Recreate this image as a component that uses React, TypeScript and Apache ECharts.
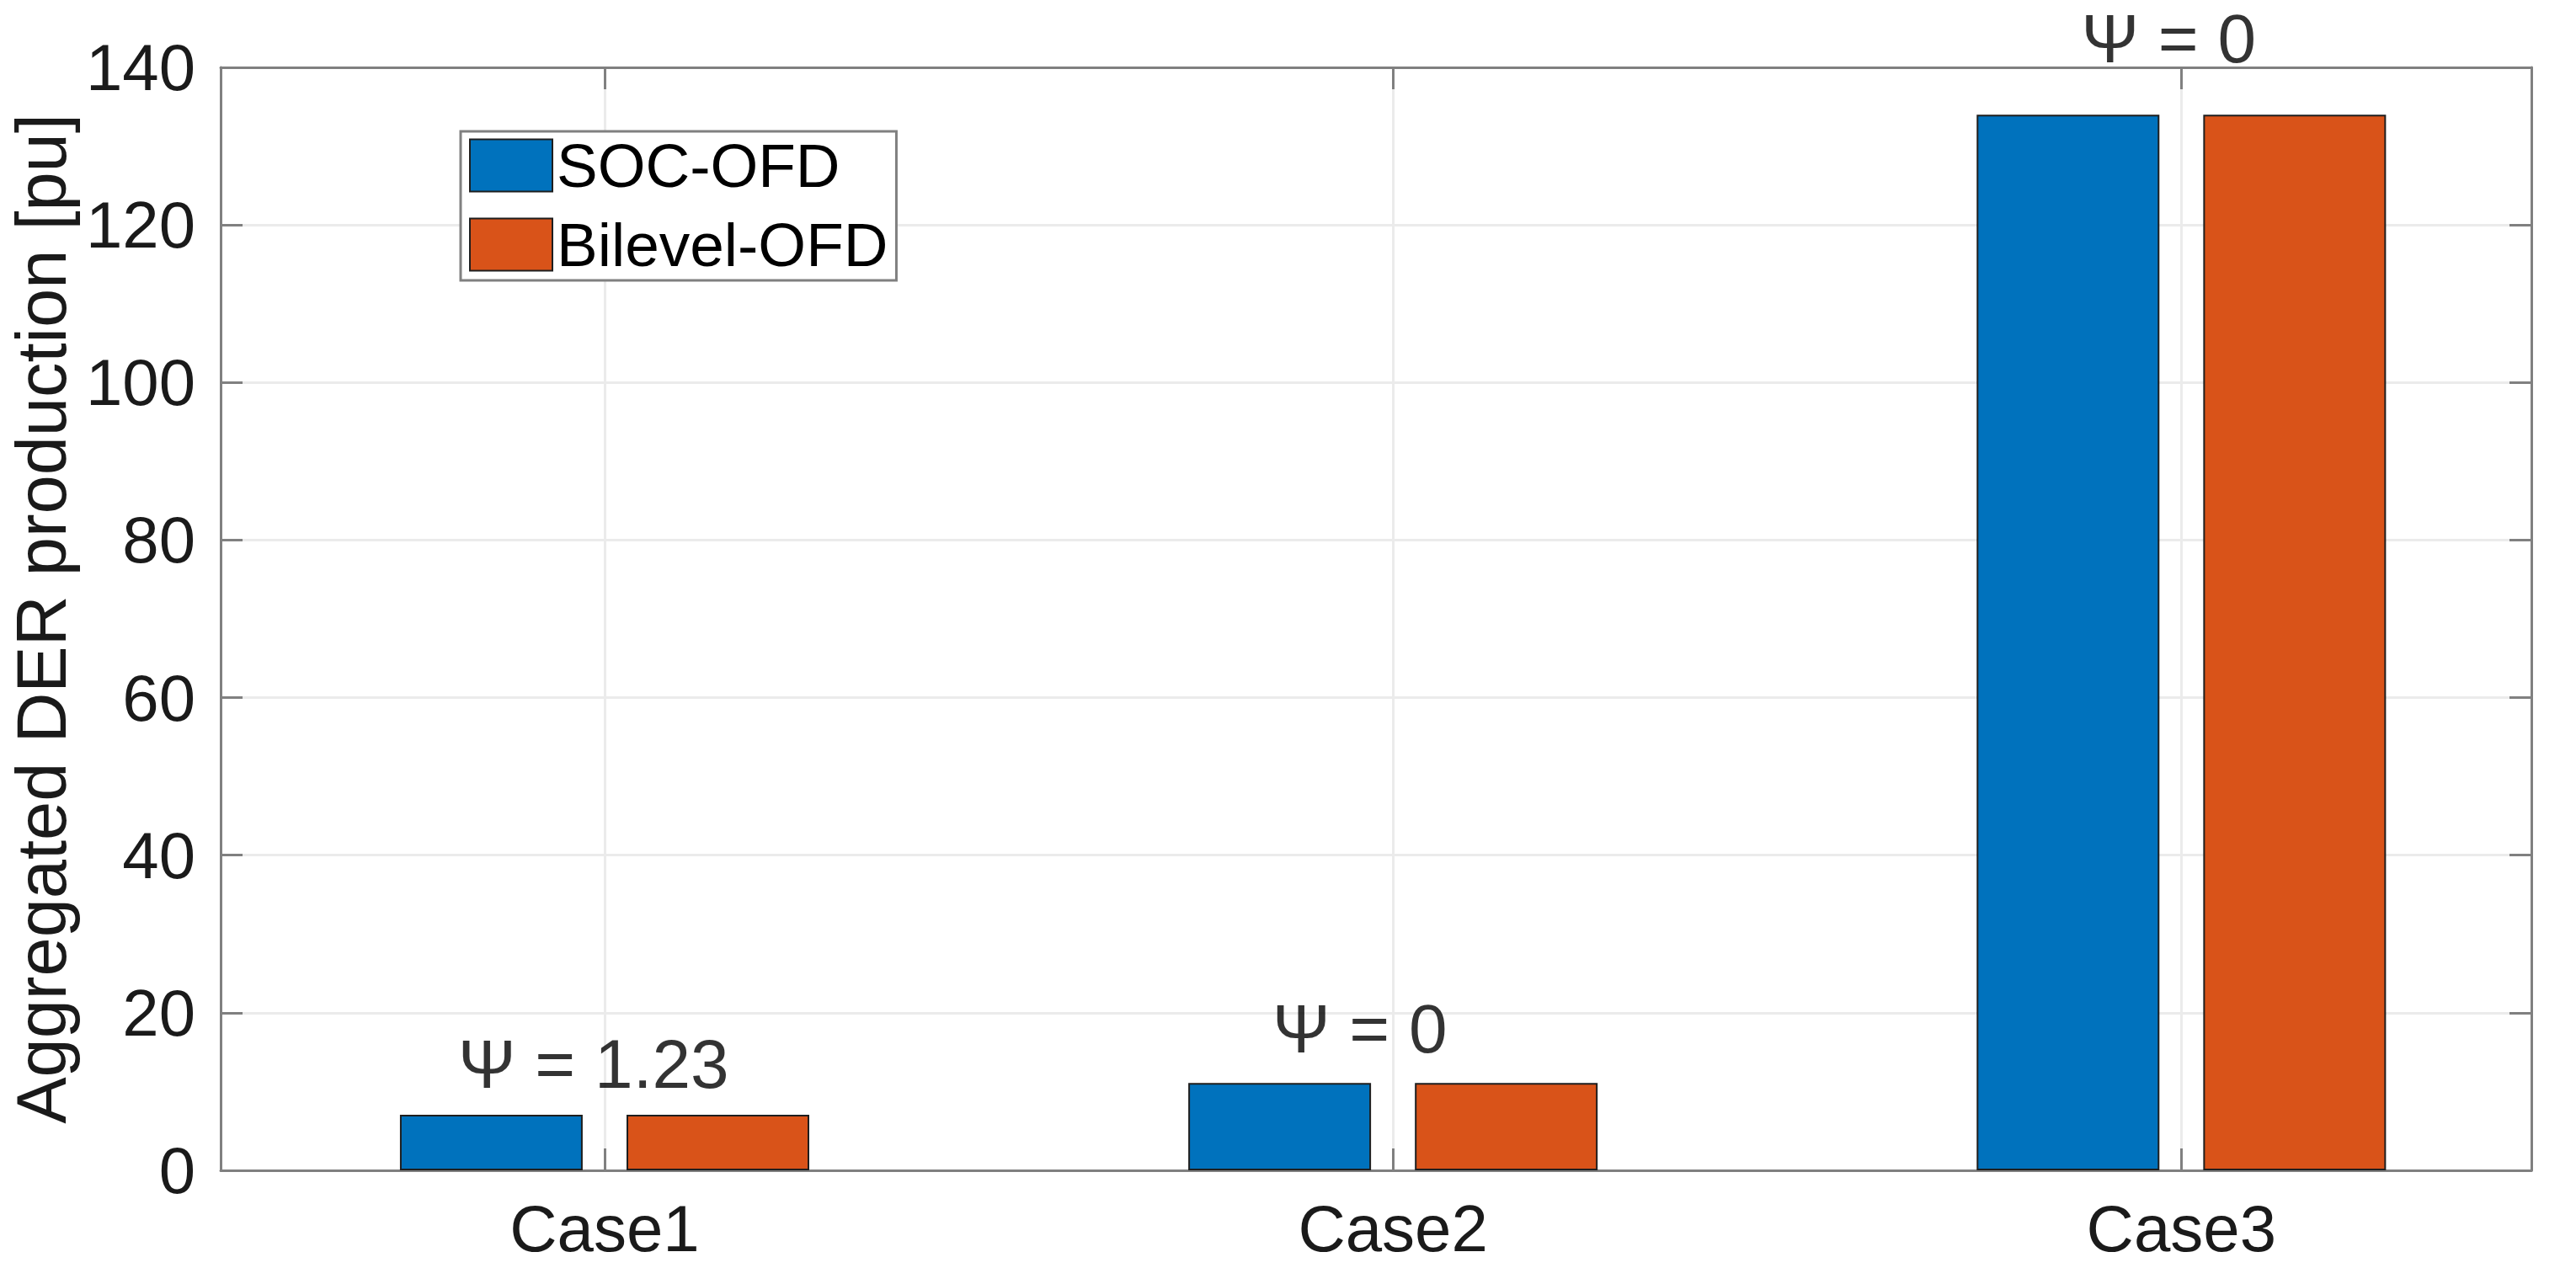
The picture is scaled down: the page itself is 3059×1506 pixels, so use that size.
import React, { useEffect, useRef } from "react";
import * as echarts from "echarts";

const categories = ["Case1", "Case2", "Case3"];
const categoryPositions = [1, 2, 3];
const xMin = 0.513;
const xMax = 3.444;
const seriesNames = ["SOC-OFD", "Bilevel-OFD"];
const socOfd = [7.05, 11.1, 134.0];
const bilevelOfd = [7.05, 11.1, 134.0];
const annotations = ["Ψ = 1.23", "Ψ = 0", "Ψ = 0"];
const annotationX = [0.986, 1.958, 2.984];
const annotationY = [9.1, 13.6, 139.3];
const yMin = 0;
const yMax = 140;
const yInterval = 20;
const yTitle = "Aggregated DER production [pu]";

const FONT = "'Liberation Sans', Arial, Helvetica, sans-serif";
const AXIS_COLOR = "#808080";
const GRID_COLOR = "#ebebeb";
const TEXT_COLOR = "#1a1a1a";

export default function App() {
  const ref = useRef<HTMLDivElement>(null);
  useEffect(() => {
    document.body.style.margin = "0";
    document.body.style.overflow = "hidden";
    if (!ref.current) return;
    const chart = echarts.init(ref.current, undefined, { renderer: "svg" });
    const axisLine = { show: true, onZero: false, lineStyle: { color: AXIS_COLOR, width: 3 } };
    const tick = { show: true, inside: true, length: 26, lineStyle: { color: AXIS_COLOR, width: 3 } };
    const catLabel = (v: number) => {
      const i = categoryPositions.indexOf(Math.round(v));
      return i >= 0 ? categories[i] : "";
    };
    chart.setOption({
      animation: false,
      backgroundColor: "#ffffff",
      textStyle: { fontFamily: FONT },
      grid: { left: 244, right: 53, top: 80, bottom: 116, containLabel: false },
      legend: {
        data: seriesNames,
        orient: "vertical",
        left: 547,
        top: 156,
        itemWidth: 98,
        itemHeight: 62,
        itemGap: 21,
        padding: [4, 10, 6, 10],
        borderColor: AXIS_COLOR,
        borderWidth: 3,
        backgroundColor: "#ffffff",
        icon: "rect",
        textStyle: { fontSize: 73, color: "#000", fontFamily: FONT },
      },
      xAxis: [
        {
          type: "value",
          min: xMin,
          max: xMax,
          position: "bottom",
          axisLine,
          axisTick: { ...tick, customValues: categoryPositions },
          axisLabel: {
            fontSize: 78,
            color: TEXT_COLOR,
            margin: 30,
            fontFamily: FONT,
            customValues: categoryPositions,
            formatter: catLabel,
          },
          splitLine: { show: true, lineStyle: { color: GRID_COLOR, width: 3 } },
        },
        {
          type: "value",
          min: xMin,
          max: xMax,
          position: "top",
          axisLine,
          axisTick: { ...tick, customValues: categoryPositions },
          axisLabel: { show: false },
          splitLine: { show: false },
        },
      ],
      yAxis: [
        {
          type: "value",
          min: yMin,
          max: yMax,
          interval: yInterval,
          position: "left",
          name: yTitle,
          nameLocation: "middle",
          nameGap: 152,
          nameTextStyle: { fontSize: 83, color: TEXT_COLOR, fontFamily: FONT },
          axisLine,
          axisTick: tick,
          axisLabel: { fontSize: 78, color: TEXT_COLOR, margin: 30, fontFamily: FONT },
          splitLine: { show: true, lineStyle: { color: GRID_COLOR, width: 3 } },
        },
        {
          type: "value",
          min: yMin,
          max: yMax,
          interval: yInterval,
          position: "right",
          axisLine,
          axisTick: tick,
          axisLabel: { show: false },
          splitLine: { show: false },
        },
      ],
      series: [
        {
          name: seriesNames[0],
          type: "bar",
          data: socOfd.map((v, i) => [categoryPositions[i], v]),
          barWidth: 217,
          barGap: "24%",
          itemStyle: { color: "#0072BD", borderColor: "#1e1e1e", borderWidth: 2 },
        },
        {
          name: seriesNames[1],
          type: "bar",
          data: bilevelOfd.map((v, i) => [categoryPositions[i], v]),
          barWidth: 217,
          barGap: "24%",
          itemStyle: { color: "#D95319", borderColor: "#1e1e1e", borderWidth: 2 },
        },
        {
          name: "annotations",
          type: "scatter",
          data: annotationY.map((y, i) => [annotationX[i], y]),
          symbol: "circle",
          symbolSize: 0,
          silent: true,
          z: 10,
          label: {
            show: true,
            position: "top",
            distance: 0,
            formatter: (p: any) => annotations[p.dataIndex],
            fontSize: 82,
            color: "#000",
            fontFamily: FONT,
          },
        },
      ],
    });
    return () => chart.dispose();
  }, []);
  return <div ref={ref} style={{ width: 3059, height: 1506 }} />;
}
